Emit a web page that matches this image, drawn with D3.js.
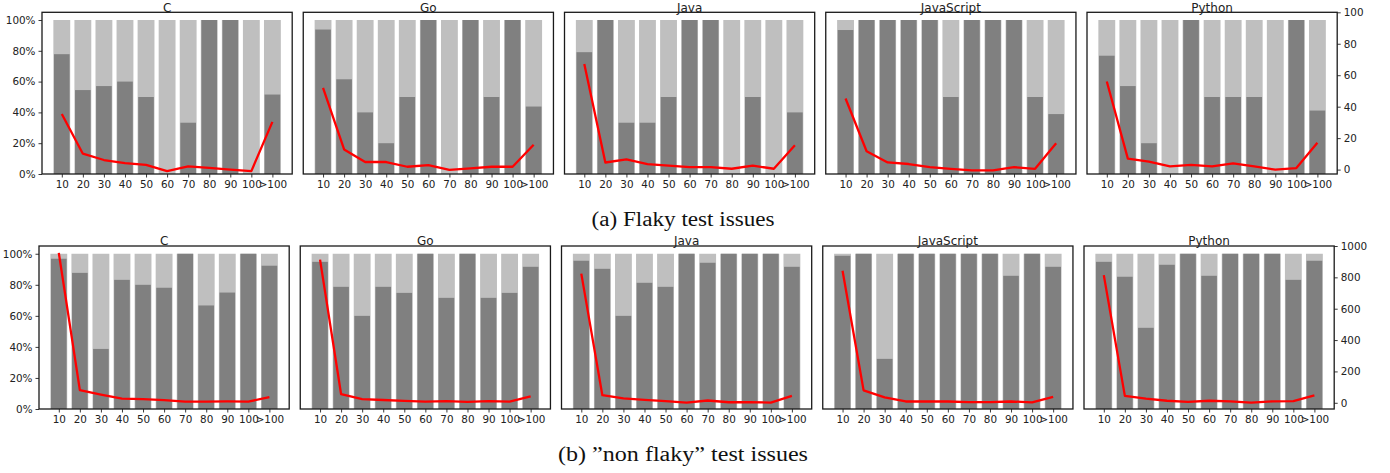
<!DOCTYPE html>
<html>
<head>
<meta charset="utf-8">
<script src="https://cdn.jsdelivr.net/npm/d3@7"></script>
<style>
  body { margin: 0; background: #fff; }
  text { font-family: "DejaVu Sans", sans-serif; fill: #222; }
  .caption { font-family: "Liberation Serif", "DejaVu Serif", serif; fill: #111; }
</style>
</head>
<body>
<svg id="chart" width="1390" height="473"></svg>
<script>
// bucket labels and languages
var bins = ["10", "20", "30", "40", "50", "60", "70", "80", "90", "100", ">100"];
var languages = ["C", "Go", "Java", "JavaScript", "Python"];

// (a) flaky issues: number of issues per bucket (red line)
var flakyCountC = [36, 11, 7, 5, 4, 0, 3, 2, 1, 0, 31];
var flakyCountGo = [52, 13, 5, 5, 2, 3, 0, 1, 2, 2, 16];
var flakyCountJava = [67, 4, 6, 3, 2, 1, 1, 0, 2, 0, 15];
var flakyCountJS = [46, 13, 6, 5, 3, 2, 1, 1, 3, 2, 18];
var flakyCountPython = [56, 7, 5, 2, 3, 2, 4, 2, 0, 1, 17];

// (a) share of the bucket in dark grey (%)
var flakyPctC = [77.8, 54.5, 57.1, 60, 50, 0, 33.3, 100, 100, 0, 51.6];
var flakyPctGo = [93.8, 61.5, 40, 20, 50, 100, 0, 100, 50, 100, 43.8];
var flakyPctJava = [79.1, 100, 33.3, 33.3, 50, 100, 100, 0, 50, 0, 40];
var flakyPctJS = [93.5, 100, 100, 100, 100, 50, 100, 100, 100, 50, 38.9];
var flakyPctPython = [76.8, 57.1, 20, 0, 100, 50, 50, 50, 0, 100, 41.2];

// (b) non flaky issues
var nonFlakyCountC = [956, 76, 48, 22, 18, 12, 3, 3, 4, 3, 31];
var nonFlakyCountGo = [913, 51, 20, 14, 8, 4, 7, 2, 7, 4, 38];
var nonFlakyCountJava = [824, 49, 28, 19, 11, 2, 15, 4, 4, 2, 45];
var nonFlakyCountJS = [842, 78, 33, 7, 7, 7, 3, 3, 7, 1, 37];
var nonFlakyCountPython = [814, 44, 26, 13, 6, 13, 9, 1, 9, 11, 47];

var nonFlakyPctC = [96.8, 87.7, 38.7, 83.2, 80, 78.1, 100, 66.7, 75, 100, 92.3];
var nonFlakyPctGo = [94.8, 78.7, 60, 78.7, 74.8, 100, 71.6, 100, 71.6, 74.8, 91.6];
var nonFlakyPctJava = [95.5, 90.3, 60, 81.3, 78.7, 100, 94.2, 100, 100, 100, 91.6];
var nonFlakyPctJS = [98.7, 100, 32.3, 100, 100, 100, 100, 100, 85.8, 100, 91.6];
var nonFlakyPctPython = [94.8, 85.2, 52.3, 92.9, 100, 85.8, 100, 100, 100, 83.2, 95.5];

var pctTicks = [0, 20, 40, 60, 80, 100];
var flakyCountTicks = [0, 20, 40, 60, 80, 100];
var nonFlakyCountTicks = [0, 200, 400, 600, 800, 1000];

var rows = [
  { caption: "(a) Flaky test issues",
    counts: [flakyCountC, flakyCountGo, flakyCountJava, flakyCountJS, flakyCountPython],
    pcts: [flakyPctC, flakyPctGo, flakyPctJava, flakyPctJS, flakyPctPython],
    countTicks: flakyCountTicks,
    left: 42, top: 12.3, bottom: 174, capY: 226, capLen: 183 },
  { caption: "(b) \u201dnon flaky\u201d test issues",
    counts: [nonFlakyCountC, nonFlakyCountGo, nonFlakyCountJava, nonFlakyCountJS, nonFlakyCountPython],
    pcts: [nonFlakyPctC, nonFlakyPctGo, nonFlakyPctJava, nonFlakyPctJS, nonFlakyPctPython],
    countTicks: nonFlakyCountTicks,
    left: 39, top: 246, bottom: 409, capY: 461, capLen: 250 }
];

var panelWidth = 250.2;
var pitch = 261.25;
var svg = d3.select("#chart");

rows.forEach(function(row) {

  languages.forEach(function(lang, p) {
    var x0 = row.left + p * pitch;
    var g = svg.append("g");
    var counts = row.counts[p];
    var pct = row.pcts[p];

    var x = d3.scaleLinear()
      .domain([-0.94, bins.length - 1 + 0.94])
      .range([x0, x0 + panelWidth]);
    var bw = x(0.8) - x(0);

    var yPct = d3.scaleLinear().domain([0, 105]).range([row.bottom, row.top]);

    // twin axis: autoscaled bottom, fixed top
    var hi = row.countTicks[row.countTicks.length - 1];
    var mn = d3.min(counts), mx = d3.max(counts);
    var yCount = d3.scaleLinear()
      .domain([mn - 0.05 * (mx - mn), hi])
      .range([row.bottom, row.top]);

    // full light bars
    g.selectAll(".total")
      .data(bins).enter()
      .append("rect")
      .attr("x", function(d, i) { return x(i) - bw / 2; })
      .attr("y", yPct(100))
      .attr("width", bw)
      .attr("height", yPct(0) - yPct(100))
      .style("fill", "#bfbfbf");

    // dark share
    g.selectAll(".share")
      .data(pct).enter()
      .append("rect")
      .attr("x", function(d, i) { return x(i) - bw / 2 + 0.6; })
      .attr("y", function(d) { return yPct(d); })
      .attr("width", bw - 1.2)
      .attr("height", function(d) { return yPct(0) - yPct(d); })
      .style("fill", "#808080");

    // count line
    var line = d3.line()
      .x(function(d, i) { return x(i); })
      .y(function(d) { return yCount(d); });

    g.append("path")
      .datum(counts)
      .attr("d", line)
      .style("fill", "none")
      .style("stroke", "#ff0000")
      .style("stroke-width", 2.3)
      .style("stroke-linejoin", "round");

    // x axis
    var xAxis = d3.axisBottom(x)
      .tickValues(d3.range(bins.length))
      .tickFormat(function(i) { return bins[i]; })
      .tickSizeInner(3.5).tickSizeOuter(0).tickPadding(3);
    var gx = g.append("g")
      .attr("transform", "translate(0," + row.bottom + ")")
      .call(xAxis);
    gx.select(".domain").remove();

    if (p == 0) {
      var gy = g.append("g")
        .attr("transform", "translate(" + x0 + ",0)")
        .call(d3.axisLeft(yPct).tickValues(pctTicks)
          .tickFormat(function(d) { return d + "%"; })
          .tickSizeInner(3.5).tickSizeOuter(0).tickPadding(3));
      gy.select(".domain").remove();
    }
    if (p == languages.length - 1) {
      var gr = g.append("g")
        .attr("transform", "translate(" + (x0 + panelWidth) + ",0)")
        .call(d3.axisRight(yCount).tickValues(row.countTicks)
          .tickFormat(d3.format("d"))
          .tickSizeInner(3.5).tickSizeOuter(0).tickPadding(3));
      gr.select(".domain").remove();
    }

    g.selectAll(".tick text")
      .style("font-size", "10.4px")
      .style("fill", "#222");
    g.selectAll(".tick line").style("stroke", "#222").style("stroke-width", 0.9);

    // frame
    g.append("rect")
      .attr("x", x0)
      .attr("y", row.top)
      .attr("width", panelWidth)
      .attr("height", row.bottom - row.top)
      .style("fill", "none")
      .style("stroke", "#1a1a1a")
      .style("stroke-width", 1.3);

    // title
    g.append("text")
      .attr("x", x0 + panelWidth / 2)
      .attr("y", row.top - 0.8)
      .attr("text-anchor", "middle")
      .style("font-size", "12px")
      .text(lang);
  });

  svg.append("text")
    .attr("class", "caption")
    .attr("x", 683)
    .attr("y", row.capY)
    .attr("text-anchor", "middle")
    .attr("textLength", row.capLen)
    .attr("lengthAdjust", "spacingAndGlyphs")
    .style("font-size", "20px")
    .text(row.caption);
});
</script>
</body>
</html>
